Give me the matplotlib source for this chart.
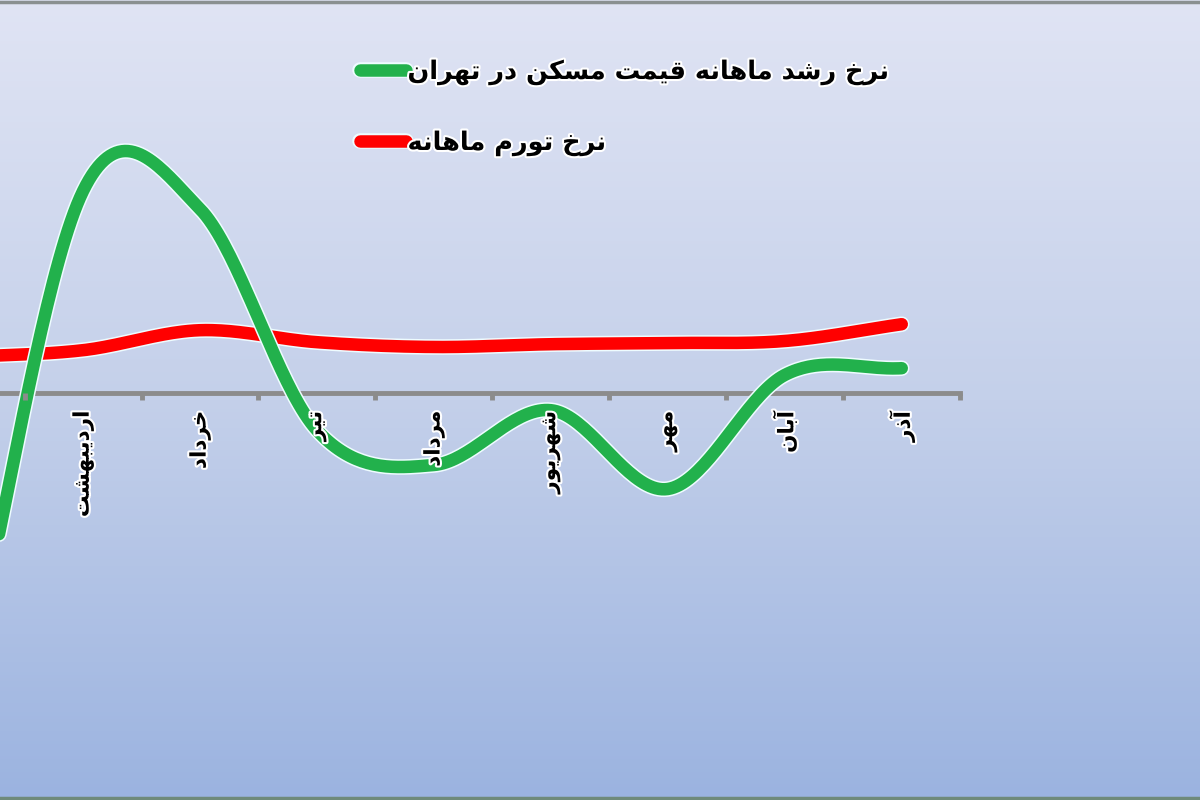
import numpy as np
import matplotlib.pyplot as plt
import matplotlib.patheffects as pe
from matplotlib.lines import Line2D
from matplotlib.colors import LinearSegmentedColormap

# months (Farvardin .. Azar), first one sits just off the left edge
months = ['فروردین', 'اردیبهشت', 'خرداد', 'تیر', 'مرداد', 'شهریور', 'مهر', 'آبان', 'آذر']
housing = [-7.4, 5.05, 4.6, -0.93, -1.8, -0.43, -2.4, 0.45, 0.62]
inflation = [0.9, 1.07, 1.57, 1.27, 1.15, 1.22, 1.25, 1.3, 1.72]
series_names = ['نرخ رشد ماهانه قیمت مسکن در تهران', 'نرخ تورم ماهانه']

# arabic presentation forms: isolated, final, initial, medial
FORMS = {
    'ا': ('\uFE8D', '\uFE8E', None, None),
    'آ': ('\uFE81', '\uFE82', None, None),
    'د': ('\uFEA9', '\uFEAA', None, None),
    'ذ': ('\uFEAB', '\uFEAC', None, None),
    'ر': ('\uFEAD', '\uFEAE', None, None),
    'و': ('\uFEED', '\uFEEE', None, None),
    'ب': ('\uFE8F', '\uFE90', '\uFE91', '\uFE92'),
    'ت': ('\uFE95', '\uFE96', '\uFE97', '\uFE98'),
    'خ': ('\uFEA5', '\uFEA6', '\uFEA7', '\uFEA8'),
    'س': ('\uFEB1', '\uFEB2', '\uFEB3', '\uFEB4'),
    'ش': ('\uFEB5', '\uFEB6', '\uFEB7', '\uFEB8'),
    'ف': ('\uFED1', '\uFED2', '\uFED3', '\uFED4'),
    'ق': ('\uFED5', '\uFED6', '\uFED7', '\uFED8'),
    'م': ('\uFEE1', '\uFEE2', '\uFEE3', '\uFEE4'),
    'ن': ('\uFEE5', '\uFEE6', '\uFEE7', '\uFEE8'),
    'ه': ('\uFEE9', '\uFEEA', '\uFEEB', '\uFEEC'),
    'ی': ('\uFBFC', '\uFBFD', '\uFBFE', '\uFBFF'),
    'ک': ('\uFB8E', '\uFB8F', '\uFB90', '\uFB91'),
}


def shape(word):
    out = []
    n = len(word)
    for i, ch in enumerate(word):
        f = FORMS.get(ch)
        if f is None:
            out.append(ch)
            continue
        prev = word[i - 1] if i > 0 else ''
        nxt = word[i + 1] if i < n - 1 else ''
        jp = prev in FORMS and FORMS[prev][2] is not None
        jn = f[2] is not None and nxt in FORMS
        if jp and jn:
            out.append(f[3])
        elif jp:
            out.append(f[1])
        elif jn:
            out.append(f[2])
        else:
            out.append(f[0])
    return ''.join(reversed(out))


def smooth(y, steps=40):
    # catmull-rom through the points, like excel's smoothed line
    y = np.asarray(y, float)
    n = len(y)
    xs, ys = [], []
    for i in range(n - 1):
        m0 = (y[i + 1] - y[i - 1]) / 2 if i > 0 else y[1] - y[0]
        m1 = (y[i + 2] - y[i]) / 2 if i + 2 < n else y[i + 1] - y[i]
        t = np.linspace(0, 1, steps)
        h00 = 2 * t**3 - 3 * t**2 + 1
        h10 = t**3 - 2 * t**2 + t
        h01 = -2 * t**3 + 3 * t**2
        h11 = t**3 - t**2
        xs.append(i + t)
        ys.append(h00 * y[i] + h10 * m0 + h01 * y[i + 1] + h11 * m1)
    return np.concatenate(xs), np.concatenate(ys)


fig = plt.figure(figsize=(12, 8), dpi=100)

# gradient background
bg = fig.add_axes([0, 0, 1, 1], zorder=0)
cmap = LinearSegmentedColormap.from_list('bg', ['#e0e4f4', '#c4d0ea', '#9bb3e0'])
bg.imshow(np.linspace(0, 1, 256).reshape(-1, 1), cmap=cmap, aspect='auto',
          extent=[0, 1, 0, 1])
bg.axis('off')

ax = fig.add_axes([0, 0, 1, 1], zorder=1)
ax.patch.set_visible(False)

glow = lambda lw: [pe.Stroke(linewidth=lw + 2.2, foreground='#eefcff'), pe.Normal()]
lw = 9
x, y = smooth(housing)
ax.plot(x, y, color='#22b14c', lw=lw, solid_capstyle='round', label=shape(series_names[0]),
        path_effects=glow(lw), zorder=4)
x, y = smooth(inflation)
ax.plot(x, y, color='#ff0000', lw=lw, solid_capstyle='round', label=shape(series_names[1]),
        path_effects=glow(lw), zorder=3)

for s in ['left', 'right', 'top']:
    ax.spines[s].set_visible(False)
ax.spines['bottom'].set_position(('data', 0))
ax.spines['bottom'].set_bounds(-0.5, 8.5)
ax.spines['bottom'].set_color('#8c8c8c')
ax.spines['bottom'].set_linewidth(3.5)
ax.spines['bottom'].set_zorder(2)
ax.set_yticks([])

ax.set_xticks(range(len(months)))
ax.set_xticklabels([shape(m) for m in months], rotation=90, fontsize=15.5,
                   fontweight='bold', family='DejaVu Sans', va='top')
ax.set_xticks(np.arange(-0.5, len(months), 1), minor=True)
ax.tick_params(axis='x', which='major', length=0, pad=13)
ax.tick_params(axis='x', which='minor', length=5, width=3.5, color='#8c8c8c', direction='out')
for lbl in ax.get_xticklabels():
    lbl.set_path_effects([pe.withStroke(linewidth=3, foreground='white')])
# month names sit on top of the lines, as in the original
ax.xaxis.set_zorder(5)

# the first month (Farvardin) lies just outside the left edge
ax.set_xlim(0.29, 10.55)
ax.set_ylim(-10.175, 9.825)

leg = ax.legend(loc='upper left', bbox_to_anchor=(0.281, 0.955), frameon=False,
                prop={'family': 'DejaVu Sans', 'weight': 'bold', 'size': 18.4},
                handlelength=1.8, handletextpad=0.05, labelspacing=1.75)
for t in leg.get_texts():
    t.set_path_effects([pe.withStroke(linewidth=3, foreground='white')])

# thin frame lines at top and bottom of the picture
fig.add_artist(Line2D([0, 1], [0.997, 0.997], transform=fig.transFigure, color='#8a9090', lw=2.5))
fig.add_artist(Line2D([0, 1], [0.003, 0.003], transform=fig.transFigure, color='#6f8a7a', lw=2.5))

fig.savefig('out.png', dpi=100)
